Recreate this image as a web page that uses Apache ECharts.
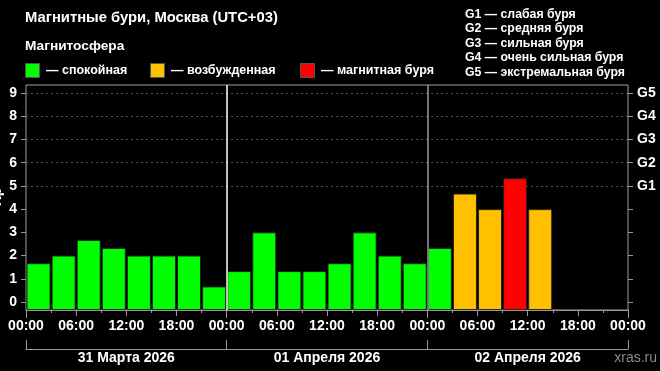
<!DOCTYPE html>
<html><head><meta charset="utf-8">
<script src="https://cdn.jsdelivr.net/npm/echarts@6/dist/echarts.min.js"></script>
<style>html,body{margin:0;padding:0;background:#000;}#c{width:660px;height:371px;}</style>
</head><body><div id="c"></div>
<script>
// ---- data ----
const titleText = 'Магнитные бури, Москва (UTC+03)';
const sectionText = 'Магнитосфера';
const days = ['31 Марта 2026', '01 Апреля 2026', '02 Апреля 2026'];
const slotHours = 3;
const kpValues = [1.67, 2.0, 2.67, 2.33, 2.0, 2.0, 2.0, 0.67,
                  1.33, 3.0, 1.33, 1.33, 1.67, 3.0, 2.0, 1.67,
                  2.33, 4.67, 4.0, 5.33, 4.0];
const levelNames = ['— спокойная', '— возбужденная', '— магнитная буря'];
const levelColors = ['#00ff00', '#ffc000', '#ff0000'];
const levelThresholds = [4, 5];
const yTicks = [0, 1, 2, 3, 4, 5, 6, 7, 8, 9];
const gLabels = ['G1', 'G2', 'G3', 'G4', 'G5'];
const gNames = ['G1 — слабая буря', 'G2 — средняя буря', 'G3 — сильная буря', 'G4 — очень сильная буря', 'G5 — экстремальная буря'];
const sourceText = 'xras.ru';

// ---- derived ----
const totalHours = days.length * 24;
const dayBoundaries = days.slice(1).map((d, i) => (i + 1) * 24);
const barData = kpValues.map((v, i) => [i * slotHours + slotHours / 2, v]);
function levelOf(v) { let l = 0; levelThresholds.forEach(t => { if (v >= t) l++; }); return l; }
const yMin = -0.3445, yMax = 9.345;
const gMin = yTicks[5], gMax = yTicks[yTicks.length - 1];

const FONT = '"Liberation Sans", Arial, sans-serif';
const AX = '#9a9a9a';
const pad2 = n => (n < 10 ? '0' : '') + n;

const chart = echarts.init(document.getElementById('c'), null, {renderer: 'canvas'});

const graphics = [
  {type: 'text', x: 25, y: 17.5, style: {text: titleText, fill: '#fff', font: 'bold 14.8px ' + FONT, align: 'left', verticalAlign: 'middle', textAlign: 'left', textVerticalAlign: 'middle'}},
  {type: 'text', x: 25, y: 46.5, style: {text: sectionText, fill: '#fff', font: 'bold 13.7px ' + FONT, align: 'left', verticalAlign: 'middle', textAlign: 'left', textVerticalAlign: 'middle'}},
  {type: 'text', x: 4, y: 197, rotation: Math.PI / 2, style: {text: 'Kp', fill: '#fff', font: 'bold 14px ' + FONT, align: 'center', verticalAlign: 'bottom', textAlign: 'center', textVerticalAlign: 'bottom'}},
  {type: 'text', x: 657, y: 358, style: {text: sourceText, fill: '#8a8a8a', font: '14px ' + FONT, align: 'right', verticalAlign: 'middle', textAlign: 'right', textVerticalAlign: 'middle'}}
];
const legendX = [25, 150, 300];
levelNames.forEach((n, i) => {
  graphics.push({type: 'rect', shape: {x: legendX[i] + 0.5, y: 63.5, width: 14, height: 14}, style: {fill: levelColors[i], stroke: '#555', lineWidth: 1}});
  graphics.push({type: 'text', x: legendX[i] + 21, y: 70.5, style: {text: n, fill: '#fff', font: 'bold 12.5px ' + FONT, align: 'left', verticalAlign: 'middle', textAlign: 'left', textVerticalAlign: 'middle'}});
});
gNames.forEach((n, i) => {
  graphics.push({type: 'text', x: 465, y: 14.5 + i * 14.5, style: {text: n, fill: '#fff', font: 'bold 12.3px ' + FONT, align: 'left', verticalAlign: 'middle', textAlign: 'left', textVerticalAlign: 'middle'}});
});

const option = {
  backgroundColor: '#000',
  animation: false,
  textStyle: {fontFamily: FONT},
  grid: [
    {left: 26, right: 32, top: 85, height: 225, show: true, borderColor: '#a0a0a0', borderWidth: 1, backgroundColor: 'transparent'},
    {left: 26, right: 32, top: 93, height: 209},
    {left: 26, right: 32, top: 340, height: 9},
    {left: 26, right: 32, top: 85, height: 225},
    {left: 26, right: 32, top: 93, height: 92.89}
  ],
  xAxis: [
    {gridIndex: 0, type: 'value', min: 0, max: totalHours, interval: 6,
      axisLine: {show: true, onZero: false, lineStyle: {color: AX}},
      axisTick: {show: true, length: 6, lineStyle: {color: AX}},
      minorTick: {show: true, splitNumber: 2, length: 3, lineStyle: {color: AX}},
      splitLine: {show: false}, minorSplitLine: {show: false},
      axisLabel: {color: '#fff', fontWeight: 'bold', fontSize: 14, fontFamily: FONT, margin: 9,
        showMinLabel: true, showMaxLabel: true,
        formatter: v => pad2(v % 24) + ':00'}},
    {gridIndex: 1, type: 'value', min: 0, max: totalHours, show: false, axisLine: {onZero: false}},
    {gridIndex: 2, type: 'category', data: days,
      axisLine: {show: true, onZero: false, lineStyle: {color: AX}},
      axisTick: {show: true, inside: true, length: 9, interval: 0, lineStyle: {color: AX}},
      axisLabel: {color: '#fff', fontWeight: 'bold', fontSize: 14, fontFamily: FONT, margin: 2, interval: 0}},
    {gridIndex: 3, type: 'value', min: 0, max: totalHours, interval: 24,
      axisLine: {show: false, onZero: false}, axisLabel: {show: false}, splitLine: {show: false},
      axisTick: {show: true, length: 8, lineStyle: {color: AX}}},
    {gridIndex: 4, type: 'value', min: 0, max: totalHours, show: false, axisLine: {onZero: false}}
  ],
  yAxis: [
    {gridIndex: 0, type: 'value', min: yMin, max: yMax, startValue: yMin,
      axisLine: {show: false, onZero: false}, axisTick: {show: false}, axisLabel: {show: false}, splitLine: {show: false}},
    {gridIndex: 1, type: 'value', min: 0, max: 9, interval: 1,
      axisLine: {show: false, onZero: false},
      axisTick: {show: true, length: 5, lineStyle: {color: AX}},
      axisLabel: {color: '#fff', fontWeight: 'bold', fontSize: 14, fontFamily: FONT, margin: 9},
      splitLine: {show: false}},
    {gridIndex: 1, type: 'value', position: 'right', min: 0, max: 9, interval: 1,
      axisLine: {show: false, onZero: false},
      axisTick: {show: true, length: 5, lineStyle: {color: AX}},
      axisLabel: {color: '#fff', fontWeight: 'bold', fontSize: 14, fontFamily: FONT, margin: 9,
        formatter: v => (v >= gMin ? gLabels[v - gMin] : '')},
      splitLine: {show: false}},
    {gridIndex: 2, type: 'value', show: false},
    {gridIndex: 3, type: 'value', show: false},
    {gridIndex: 4, type: 'value', min: gMin, max: gMax, interval: 1,
      axisLine: {show: false}, axisTick: {show: false}, axisLabel: {show: false},
      splitLine: {show: true, lineStyle: {color: '#555', type: [2, 3], width: 1}}}
  ],
  series: [{
    type: 'bar', xAxisIndex: 0, yAxisIndex: 0,
    data: barData, barWidth: 24,
    itemStyle: {
      color: p => levelColors[levelOf(p.value[1])],
      borderColor: 'rgba(30,30,30,0.9)', borderWidth: 1
    },
    markLine: {
      silent: true, symbol: 'none', label: {show: false},
      data: dayBoundaries.map((h, i) => ({xAxis: h, lineStyle: {color: i === 0 ? '#ffffff' : '#9a9a9a', width: 1.5, type: 'solid'}}))
    }
  }],
  graphic: graphics
};
chart.setOption(option);
</script>
</body></html>
